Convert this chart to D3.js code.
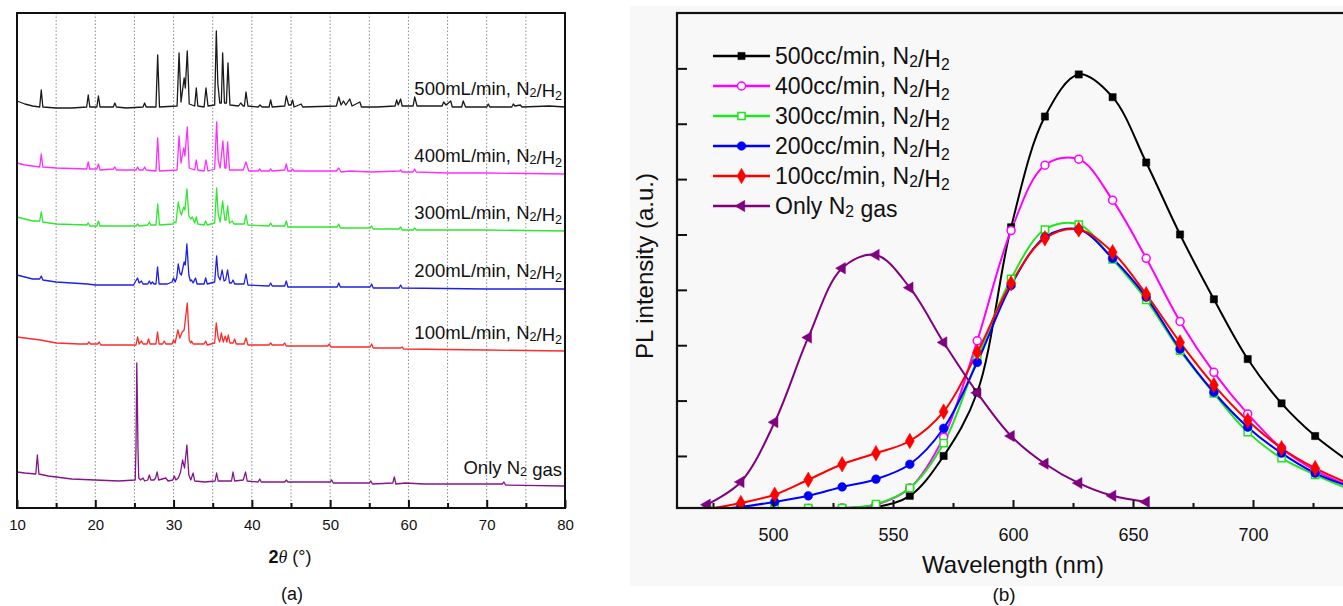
<!DOCTYPE html>
<html><head><meta charset="utf-8">
<script src="https://cdn.jsdelivr.net/npm/d3@7"></script>
<style>
body{margin:0;background:#fff}
svg{display:block}
text{font-family:"Liberation Sans",Arial,Helvetica,sans-serif;fill:#111}
</style>
</head><body>
<svg id="c" width="1343" height="606"></svg>
<script>
// ---------------- Panel (a): XRD patterns, [2theta, intensity a.u.] ----------------
const xrdTicks = [10, 20, 30, 40, 50, 60, 70, 80];
const xrdMinorTicks = [15, 25, 35, 45, 55, 65, 75];
const xrdLabels = ["500mL/min, N2/H2", "400mL/min, N2/H2", "300mL/min, N2/H2", "200mL/min, N2/H2", "100mL/min, N2/H2", "Only N2 gas"];

const xrd500 = [[10,407],[11,404],[12,402],[12.9,401],[13.1,418],[13.3,401],[15,400],[17,400],[18.9,401],[19.1,413],[19.3,401],[20.2,401],[20.4,412],[20.6,401],[22.3,401],[22.5,405],[22.7,401],[24,400],[26.1,401],[26.3,405],[26.5,401],[27.75,401],[27.97,453],[28.2,401],[30.45,402],[30.7,455],[30.95,406],[31.35,430],[31.5,420],[31.75,457],[32.0,404],[32.7,402],[32.9,420],[33.1,402],[33.9,401],[34.14,420],[34.4,402],[35.25,403],[35.46,477],[35.65,425],[35.9,405],[36.1,405],[36.27,455],[36.5,405],[36.75,405],[36.95,445],[37.2,403],[38.3,402],[38.57,405],[38.9,402],[39.05,402],[39.25,416],[39.5,402],[40.8,401],[41.04,403],[41.3,401],[42.2,401],[42.4,408],[42.6,401],[44.2,402],[44.4,412],[44.7,403],[45.0,403],[45.2,408],[45.4,401],[46.3,404],[46.5,401],[50.8,402],[51.1,411],[51.4,403],[51.7,407],[52.0,403],[52.5,409],[52.8,402],[53.8,406],[54.0,401],[56,401],[58.3,402],[58.5,408],[58.7,403],[59.0,409],[59.2,402],[60.6,402],[60.8,411],[61.1,402],[64.3,402],[64.5,406],[64.8,403],[65.4,407],[65.6,401],[66.8,401],[67.0,407],[67.3,401],[70.0,401],[70.2,404],[70.4,401],[73.2,401],[73.4,404],[73.6,402],[74.3,403],[74.5,401],[78,402],[80,401]];

const xrd400 = [[10,345],[11,343],[12.9,341],[13.1,354],[13.3,341],[15,340],[18.9,339],[19.1,346],[19.3,339],[20.2,339],[20.4,344],[20.6,338],[22.3,339],[22.5,341],[22.7,338],[25.2,338],[25.4,341],[25.6,338],[26.1,338],[26.3,341],[26.5,338],[27.75,337],[27.97,370],[28.2,337],[30.45,338],[30.7,372],[30.95,345],[31.3,360],[31.45,352],[31.75,381],[32.0,340],[32.7,338],[32.9,348],[33.1,338],[33.9,337],[34.14,348],[34.4,337],[35.25,339],[35.5,386],[35.7,348],[35.95,340],[36.3,367],[36.55,340],[36.7,340],[36.9,366],[37.15,338],[38.9,338],[39.25,346],[39.6,337],[40.8,337],[41.0,339],[41.2,337],[42.2,337],[42.4,339],[42.6,337],[44.2,338],[44.4,344],[44.6,337],[45.0,337],[45.2,339],[45.4,337],[50.8,337],[51.1,340],[51.4,336],[52.5,337],[55.3,336],[58.9,337],[59.0,338],[59.2,336],[60.6,336],[60.8,339],[61,336],[65,335],[70,335],[80,334]];

const xrd300 = [[10,291],[11,289],[12,287],[12.9,287],[13.1,296],[13.3,286],[15,284],[18.9,283],[19.1,285],[19.3,282],[20.2,282],[20.4,287],[20.6,282],[25.2,282],[25.4,284],[25.6,282],[26.7,283],[26.9,286],[27.1,283],[27.75,283],[27.97,304],[28.2,283],[29.9,284],[30.1,286],[30.3,285],[30.6,306],[30.85,296],[31.0,293],[31.3,301],[31.45,298],[31.7,319],[31.95,292],[32.2,289],[32.4,291],[32.7,285],[32.9,291],[33.1,284],[33.9,283],[34.1,287],[34.3,283],[35.25,285],[35.5,320],[35.7,294],[35.95,286],[36.27,307],[36.55,288],[36.7,288],[36.9,302],[37.15,285],[37.5,287],[37.7,284],[39.0,284],[39.25,293],[39.5,283],[42.2,282],[42.4,285],[42.6,282],[44.2,282],[44.4,287],[44.6,281],[50.9,281],[51.1,284],[51.3,280],[55.1,280],[55.3,282],[55.5,279],[58.8,279],[59,281],[59.2,278],[60.6,278],[60.8,280],[61,278],[70,278],[80,277]];

const xrd200 = [[10,233],[11,231],[12,229],[12.9,229],[13.1,232],[13.3,228],[15,226],[19,224],[20,223],[22,223],[24.9,223],[25.1,226],[25.4,230],[25.6,225],[25.9,227],[26.1,224],[26.7,224],[26.9,227],[27.1,224],[27.3,226],[27.5,224],[27.75,224],[27.95,241],[28.15,224],[29.2,224],[29.8,226],[30.0,230],[30.2,226],[30.4,230],[30.6,244],[30.8,235],[31.0,233],[31.35,246],[31.5,243],[31.7,264],[31.95,233],[32.15,227],[32.3,228],[32.5,225],[32.8,230],[33.0,224],[33.9,224],[34.1,230],[34.3,224],[35.25,226],[35.5,252],[35.7,232],[35.95,228],[36.2,238],[36.45,227],[36.65,228],[36.9,238],[37.15,225],[37.4,225],[37.6,228],[37.8,224],[39.0,224],[39.25,234],[39.5,223],[42.2,222],[42.4,225],[42.6,222],[44.2,222],[44.4,227],[44.6,221],[50.9,221],[51.1,225],[51.3,221],[55.1,221],[55.3,224],[55.5,220],[58.8,220],[59,223],[59.2,220],[70,219],[80,219]];

const xrd100 = [[10,171],[11,170],[12,169],[13,168],[15,165],[18,164],[19,164],[19.2,166],[19.4,164],[20.3,164],[20.5,166],[20.7,163],[25.2,163],[25.4,171],[25.6,164],[25.9,167],[26.1,164],[26.6,164],[26.8,169],[27.0,164],[27.75,164],[27.95,176],[28.15,164],[28.6,164],[28.8,167],[29.0,164],[29.8,164],[30.0,168],[30.2,165],[30.55,178],[30.8,170],[31.1,176],[31.35,178],[31.75,205],[32.0,168],[32.2,165],[32.3,167],[32.5,164],[33.9,164],[34.1,167],[34.3,163],[35.25,165],[35.45,185],[35.7,170],[35.9,166],[36.1,175],[36.35,166],[36.6,172],[36.8,166],[37.0,173],[37.2,165],[37.6,165],[37.8,169],[38.0,164],[39.0,164],[39.25,170],[39.5,163],[42.2,163],[42.4,165],[42.6,163],[44.0,163],[44.2,165],[44.4,162],[49.7,162],[49.9,164],[50.1,161],[55.1,161],[55.3,164],[55.5,160],[59,160],[59.2,161],[59.4,159],[70,158],[80,157]];

const xrdN2 = [[10,36],[11,35],[12.4,34],[12.6,53],[12.8,34],[14,32],[17,29],[20,28],[23,27],[25.1,28],[25.2,60],[25.3,145],[25.38,105],[25.45,60],[25.55,30],[25.8,28],[26.1,30],[26.3,27],[26.7,28],[26.9,33],[27.1,28],[27.5,28],[27.7,30],[27.9,36],[28.1,28],[29.0,30],[29.3,27],[29.9,28],[30.1,32],[30.3,28],[30.6,30],[30.9,36],[31.15,48],[31.4,40],[31.7,63],[31.95,33],[32.2,28],[32.5,35],[32.7,27],[34,26],[35.3,27],[35.5,35],[35.7,27],[37.4,27],[37.6,36],[37.8,27],[38.9,28],[39.2,36],[39.4,27],[40.8,26],[41.0,29],[41.2,26],[44.2,26],[44.4,28],[44.6,26],[50.0,26],[50.2,28],[50.4,25],[55.0,25],[55.2,27],[55.4,24],[58.0,25],[58.2,31],[58.4,24],[59.6,25],[62,24],[72.0,24],[72.2,26],[72.4,23],[80,22]];

// ---------------- Panel (b): PL spectra ----------------
const plTicks = [500, 550, 600, 650, 700];
const plMinorTicks = [475, 525, 575, 625, 675, 725];
const plYTicks = [1, 2, 3, 4, 5, 6, 7, 8];
const plLabels = ["500cc/min, N2/H2", "400cc/min, N2/H2", "300cc/min, N2/H2", "200cc/min, N2/H2", "100cc/min, N2/H2", "Only N2 gas"];
const plWavelength = [472.5, 486.6, 500.7, 514.7, 528.8, 542.9, 557.0, 571.1, 585.1, 599.2, 613.3, 627.4, 641.5, 655.5, 669.6, 683.7, 697.8, 711.9, 725.9, 740.0];
const pl500 = [0.06, 0.06, 0.06, 0.06, 0.06, 0.08, 0.28, 1.00, 2.15, 5.13, 7.13, 7.89, 7.48, 6.30, 5.00, 3.83, 2.75, 1.95, 1.36, 0.90];
const pl400 = [0.05, 0.05, 0.05, 0.05, 0.06, 0.12, 0.42, 1.34, 3.08, 5.07, 6.25, 6.36, 5.62, 4.57, 3.43, 2.51, 1.76, 1.14, 0.74, 0.46];
const pl300 = [0.04, 0.04, 0.05, 0.06, 0.06, 0.13, 0.42, 1.23, 2.75, 4.20, 5.09, 5.18, 4.55, 3.82, 2.90, 2.13, 1.43, 0.96, 0.66, 0.40];
const pl200 = [0.03, 0.08, 0.17, 0.28, 0.44, 0.58, 0.85, 1.50, 2.69, 4.08, 4.95, 5.09, 4.57, 3.87, 2.93, 2.15, 1.52, 1.05, 0.69, 0.45];
const pl100 = [0.04, 0.15, 0.30, 0.57, 0.85, 1.05, 1.27, 1.80, 2.87, 4.12, 4.93, 5.09, 4.68, 3.92, 3.05, 2.28, 1.64, 1.14, 0.78, 0.50];
const plN2  = [0.12, 0.53, 1.61, 3.14, 4.39, 4.63, 4.04, 3.05, 2.14, 1.36, 0.86, 0.51, 0.28, 0.17];

// ---------------- drawing ----------------
const svg = d3.select("#c");
const FONT = '"Liberation Sans",Arial,Helvetica,sans-serif';

// light scan background behind panel (b)
svg.append("rect").attr("x", 630).attr("y", 6).attr("width", 713).attr("height", 580).attr("fill", "#f8f8f8");

function addSubText(sel, str) {
  // renders "N2"/"H2" with subscript 2
  const parts = str.split(/(?<=[NH])(2)/);
  parts.forEach(p => {
    if (p === "2") {
      sel.append("tspan").attr("font-size", "0.68em").attr("dy", "0.18em").text("2");
      sel.append("tspan").attr("dy", "-0.18em").text("");
    } else if (p.length) {
      sel.append("tspan").text(p);
    }
  });
}

// ---- panel (a)
const xA = d3.scaleLinear().domain([10, 80]).range([17, 565]);
const yA = d3.scaleLinear().domain([0, 495]).range([508, 13]);
const gA = svg.append("g");

gA.append("g").selectAll("line").data(xrdMinorTicks.concat(xrdTicks.slice(1, -1)))
  .join("line")
  .attr("x1", d => xA(d)).attr("x2", d => xA(d))
  .attr("y1", yA.range()[1]).attr("y2", yA.range()[0])
  .attr("stroke", "#8a8a8a").attr("stroke-width", 1).attr("stroke-dasharray", "1.5,2");

const xrdSeries = [
  {data: xrd500, color: "#1a1a1a", label: xrdLabels[0]},
  {data: xrd400, color: "#ff2dff", label: xrdLabels[1]},
  {data: xrd300, color: "#2ee82e", label: xrdLabels[2]},
  {data: xrd200, color: "#1f1fe6", label: xrdLabels[3]},
  {data: xrd100, color: "#ff2a2a", label: xrdLabels[4]},
  {data: xrdN2,  color: "#84168a", label: xrdLabels[5]}
];
const lineA = d3.line().x(d => xA(d[0])).y(d => yA(d[1]));
xrdSeries.forEach(s => {
  gA.append("path").attr("d", lineA(s.data)).attr("fill", "none")
    .attr("stroke", s.color).attr("stroke-width", 1.3).attr("stroke-linejoin", "round");
  const last = s.data[s.data.length - 1];
  const t = gA.append("text").attr("x", xA(80) - 3).attr("y", yA(last[1]) - 12)
    .attr("text-anchor", "end").attr("font-size", 18.5);
  addSubText(t, s.label);
});

gA.append("rect").attr("x", xA(10)).attr("y", yA(495)).attr("width", xA(80) - xA(10)).attr("height", yA(0) - yA(495))
  .attr("fill", "none").attr("stroke", "#111").attr("stroke-width", 2);

const axA = gA.append("g").attr("transform", `translate(0,${yA(0)})`)
  .call(d3.axisBottom(xA).tickValues(xrdTicks).tickSize(-8).tickPadding(11).tickFormat(d3.format("d")));
axA.select(".domain").remove();
axA.selectAll(".tick line").attr("stroke", "#111").attr("stroke-width", 2);
axA.selectAll("text").attr("font-size", 15).attr("font-family", FONT).attr("fill", "#222");
const axA2 = gA.append("g").attr("transform", `translate(0,${yA(0)})`)
  .call(d3.axisBottom(xA).tickValues(xrdMinorTicks).tickSize(-5).tickFormat(""));
axA2.select(".domain").remove();
axA2.selectAll(".tick line").attr("stroke", "#111").attr("stroke-width", 2);

const tA = gA.append("text").attr("x", 290).attr("y", 563).attr("text-anchor", "middle").attr("font-size", 18);
tA.append("tspan").attr("font-weight", "bold").text("2");
tA.append("tspan").attr("font-style", "italic").attr("font-family", '"Liberation Serif","Times New Roman",serif').text("θ");
tA.append("tspan").text(" (°)");
gA.append("text").attr("x", 292).attr("y", 600).attr("text-anchor", "middle").attr("font-size", 18).text("(a)");

// ---- panel (b)
const xB = d3.scaleLinear().domain([460, 750]).range([677, 1373]);
const yB = d3.scaleLinear().domain([0.06, 9]).range([508, 13]);
const gB = svg.append("g");
svg.append("clipPath").attr("id", "clipB").append("rect")
  .attr("x", xB(460)).attr("y", yB(9)).attr("width", xB(750) - xB(460)).attr("height", yB(0.06) - yB(9));

const plSeries = [
  {data: pl500, color: "#000000", sym: d3.symbolSquare, size: 52, open: false, label: plLabels[0]},
  {data: pl400, color: "#ff00ff", sym: d3.symbolCircle, size: 50, open: true,  label: plLabels[1]},
  {data: pl300, color: "#1ee61e", sym: d3.symbolSquare, size: 52, open: true,  label: plLabels[2]},
  {data: pl200, color: "#0000ff", sym: d3.symbolCircle, size: 60, open: false, label: plLabels[3]},
  {data: pl100, color: "#ff0000", sym: d3.symbolDiamond, size: 70, open: false, label: plLabels[4]},
  {data: plN2,  color: "#800080", sym: d3.symbolTriangle, size: 55, open: false, label: plLabels[5], rot: -90}
];
const lineB = d3.line().x(d => xB(d[0])).y(d => yB(d[1])).curve(d3.curveCatmullRom.alpha(0.5));
const plot = gB.append("g").attr("clip-path", "url(#clipB)");
plSeries.forEach(s => {
  const pts = s.data.map((v, i) => [plWavelength[i], v]);
  plot.append("path").attr("d", lineB(pts)).attr("fill", "none")
    .attr("stroke", s.color).attr("stroke-width", 2);
});
plSeries.forEach(s => {
  const pts = s.data.map((v, i) => [plWavelength[i], v]);
  plot.append("g").selectAll("path").data(pts).join("path")
    .attr("d", d3.symbol(s.sym, s.size))
    .attr("transform", d => `translate(${xB(d[0])},${yB(d[1])}) rotate(${s.rot || 0})`)
    .attr("fill", s.open ? "#fff" : s.color)
    .attr("stroke", s.color).attr("stroke-width", s.open ? 1.5 : 0.5);
});

gB.append("rect").attr("x", xB(460)).attr("y", yB(9)).attr("width", xB(750) - xB(460)).attr("height", yB(0.06) - yB(9))
  .attr("fill", "none").attr("stroke", "#111").attr("stroke-width", 2.2);

const axB = gB.append("g").attr("transform", `translate(0,${yB(0.06)})`)
  .call(d3.axisBottom(xB).tickValues(plTicks).tickSize(-8).tickPadding(20).tickFormat(d3.format("d")));
axB.select(".domain").remove();
axB.selectAll(".tick line").attr("stroke", "#111").attr("stroke-width", 2);
axB.selectAll("text").attr("font-size", 18).attr("font-family", FONT).attr("fill", "#222");
const axB2 = gB.append("g").attr("transform", `translate(0,${yB(0.06)})`)
  .call(d3.axisBottom(xB).tickValues(plMinorTicks).tickSize(-5).tickFormat(""));
axB2.select(".domain").remove();
axB2.selectAll(".tick line").attr("stroke", "#111").attr("stroke-width", 2);
const ayB = gB.append("g").attr("transform", `translate(${xB(460)},0)`)
  .call(d3.axisLeft(yB).tickValues(plYTicks).tickSize(-10).tickFormat(""));
ayB.select(".domain").remove();
ayB.selectAll(".tick line").attr("stroke", "#111").attr("stroke-width", 2);

gB.append("text").attr("x", 1013).attr("y", 573).attr("text-anchor", "middle").attr("font-size", 24).text("Wavelength (nm)");
gB.append("text").attr("transform", "translate(653,266) rotate(-90)").attr("text-anchor", "middle").attr("font-size", 24).text("PL intensity (a.u.)");
gB.append("text").attr("x", 1004).attr("y", 601).attr("text-anchor", "middle").attr("font-size", 19).text("(b)");

// legend
const leg = gB.append("g");
plSeries.forEach((s, i) => {
  const yb = 64 + i * 30;
  const g = leg.append("g");
  g.append("line").attr("x1", 713).attr("x2", 770).attr("y1", yb - 8).attr("y2", yb - 8)
    .attr("stroke", s.color).attr("stroke-width", 2.5);
  g.append("path").attr("d", d3.symbol(s.sym, s.size)).attr("transform", `translate(741.5,${yb - 8}) rotate(${s.rot || 0})`)
    .attr("fill", s.open ? "#fff" : s.color).attr("stroke", s.color).attr("stroke-width", s.open ? 1.5 : 0.5);
  const t = g.append("text").attr("x", 775).attr("y", yb).attr("font-size", 23);
  addSubText(t, s.label);
});
</script>
</body></html>
